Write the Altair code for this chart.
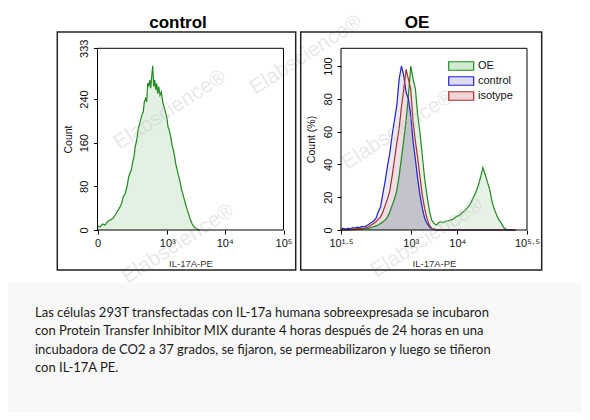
import altair as alt
import pandas as pd

# ---------------- data ----------------
# Left panel "control": IL-17A-PE fluorescence vs event count
ctrl_pe = [0, 7, 16, 24, 33, 44, 57, 69, 82, 94,
           110, 122, 137, 154, 167, 179, 192, 207, 221, 236,
           254, 270, 288, 308, 328, 349, 366, 390, 408, 427,
           447, 468, 489, 511, 535, 559, 584, 610, 637, 665,
           694, 734, 776, 824, 870, 919, 975, 1029, 1086, 1151,
           1215, 1282, 1358, 1432, 1510, 1599, 1686, 1778, 1882, 1983,
           2090, 2212, 2359, 2526, 2736, 2964, 3302, 3764]
ctrl_count = [7, 6, 11, 9, 15, 18, 21, 27, 34, 40,
              49, 61, 67, 82, 98, 104, 110, 125, 134, 153,
              165, 183, 192, 202, 211, 217, 235, 241, 235, 269,
              263, 275, 260, 281, 301, 263, 275, 257, 269, 250,
              263, 247, 253, 235, 226, 217, 208, 189, 183, 171,
              156, 147, 134, 119, 110, 98, 89, 76, 67, 58,
              49, 40, 31, 21, 12, 6, 2, 0]

# Right panel "OE": log10(IL-17A-PE) bins and % of max count per sample
log_bins = [1.50, 1.55, 1.60, 1.65, 1.70, 1.75, 1.80, 1.85, 1.90, 1.95,
            2.00, 2.05, 2.10, 2.15, 2.20, 2.25, 2.30, 2.35, 2.40, 2.45,
            2.50, 2.55, 2.60, 2.65, 2.70, 2.75, 2.80, 2.85, 2.90, 2.95,
            3.00, 3.05, 3.10, 3.15, 3.20, 3.25, 3.30, 3.35, 3.40, 3.45,
            3.50, 3.55, 3.60, 3.65, 3.70, 3.75, 3.80, 3.85, 3.90, 3.95,
            4.00, 4.05, 4.10, 4.15, 4.20, 4.25, 4.30, 4.35, 4.40, 4.45,
            4.50, 4.55, 4.60, 4.65, 4.70, 4.75, 4.80, 4.85, 4.90, 4.95,
            5.00, 5.05, 5.10, 5.15, 5.20, 5.25]
oe_pct = [0, 0, 0, 0, 0, 0, 0.3, 0.3, 0.5, 0.5,
          0.8, 1, 1, 1.5, 2, 2.5, 3, 4, 5, 6,
          8, 11, 15, 19, 24, 33, 44, 55, 67, 82,
          100, 92, 86, 70, 59, 45, 31, 21, 12, 6,
          4, 3, 4.5, 5, 4.5, 5.5, 5.5, 6, 6.5, 7.5,
          8.5, 9, 10.5, 11.5, 13, 14.5, 17, 20, 23, 27,
          32, 38, 34, 29, 24.5, 17, 12.5, 9, 6, 4,
          1.5, 0.5, 0, 0, 0, 0]
control_pct = [0.5, 1, 0.5, 1, 0.8, 1.5, 1.2, 1.8, 1.5, 2.2,
               2.0, 2.5, 3.5, 4.5, 5.5, 7, 11, 14, 22, 30,
               39, 47, 58, 67, 76, 92, 100, 94, 84, 80,
               70, 54, 43, 31, 21, 13, 7, 4, 2, 1,
               0.5, 0, 0, 0, 0, 0, 0, 0, 0, 0,
               0, 0, 0, 0, 0, 0, 0, 0, 0, 0,
               0, 0, 0, 0, 0, 0, 0, 0, 0, 0,
               0, 0, 0, 0, 0, 0]
isotype_pct = [0, 0, 0, 0.3, 0.3, 0.5, 0.5, 0.8, 1, 1,
               1.2, 1.5, 2, 3, 4, 5, 6.5, 8, 11, 15,
               19, 24, 33, 43, 53, 62, 75, 86, 98, 92,
               86, 66, 54, 44, 32, 21, 13, 7, 3, 1,
               0.3, 0, 0, 0, 0, 0, 0, 0, 0, 0,
               0, 0, 0, 0, 0, 0, 0, 0, 0, 0,
               0, 0, 0, 0, 0, 0, 0, 0, 0, 0,
               0, 0, 0, 0, 0, 0]

series_names = ["OE", "control", "isotype"]
series_lines = ["#1f8a1f", "#2222cc", "#a8302c"]
series_fills = ["#d3ead3", "#dcdcf5", "#f2d6d6"]

panel_titles = ["control", "OE"]
caption_lines = [
    "Las células 293T transfectadas con IL-17a humana sobreexpresada se incubaron",
    "con Protein Transfer Inhibitor MIX durante 4 horas después de 24 horas en una",
    "incubadora de CO2 a 37 grados, se fijaron, se permeabilizaron y luego se tiñeron",
    "con IL-17A PE.",
]
watermark = "Elabscience®"

# ---------------- tables ----------------
left_df = pd.DataFrame({"pe": ctrl_pe, "count": ctrl_count})
rows = []
for name, vals in zip(series_names, [oe_pct, control_pct, isotype_pct]):
    for u, v in zip(log_bins, vals):
        rows.append({"series": name, "log_pe": u, "pct": v})
right_df = pd.DataFrame(rows)
one = pd.DataFrame({"k": [0]})

FONT = "Liberation Sans"

# ---------------- left panel ----------------
xl = alt.X(
    "pe:Q",
    scale=alt.Scale(type="symlog", constant=70, domain=[0, 100000], range=[89.5, 275.5], nice=False),
    axis=alt.Axis(
        orient="bottom", offset=-182, values=[0, 1000, 10000, 100000],
        labelExpr="datum.value == 0 ? '0' : datum.value == 1000 ? '10³' : datum.value == 10000 ? '10⁴' : '10⁵'",
        domain=False, grid=False, tickSize=4, tickColor="#000", labelFlush=False, labelOverlap=False,
        labelFont=FONT, labelFontSize=11, labelColor="#111", labelPadding=3,
        title="IL-17A-PE", titleFont=FONT, titleFontSize=9.5, titleFontWeight="normal",
        titleColor="#333", titleX=182.5, titleY=33, titleBaseline="middle",
    ),
)
yl = alt.Y(
    "count:Q",
    scale=alt.Scale(domain=[0, 333], range=[222, 40.3], nice=False),
    axis=alt.Axis(
        orient="left", offset=-89.5, values=[0, 80, 160, 240, 333],
        domain=False, grid=False, tickSize=4, tickColor="#000", labelFlush=False, labelOverlap=False,
        labelAngle=270, labelAlign="center", labelBaseline="bottom", labelPadding=4,
        labelFont=FONT, labelFontSize=11, labelColor="#111",
        title="Count", titleFont=FONT, titleFontSize=10.5, titleFontWeight="normal",
        titleColor="#111", titleAngle=270, titleX=-29.5, titleY=131, titleBaseline="middle",
    ),
)
left_base = alt.Chart(left_df)
left_panel = alt.layer(
    left_base.mark_area(color="#e3f1e3").encode(x=xl, y=yl),
    left_base.mark_line(color="#1f8a1f", strokeWidth=1.2).encode(x=xl, y=yl),
)

# ---------------- right panel ----------------
xr = alt.X(
    "pe:Q",
    scale=alt.Scale(type="log", domain=[10 ** 1.5, 10 ** 5.5], range=[333, 519], nice=False),
    axis=alt.Axis(
        orient="bottom", offset=-182, values=[10 ** 1.5, 1000, 10000, 10 ** 5.5],
        labelExpr="datum.value < 100 ? '10¹·⁵' : datum.value < 5000 ? '10³' : datum.value < 50000 ? '10⁴' : '10⁵·⁵'",
        domain=False, grid=False, tickSize=4, tickColor="#000", labelFlush=False, labelOverlap=False,
        labelFont=FONT, labelFontSize=11, labelColor="#111", labelPadding=3,
        title="IL-17A-PE", titleFont=FONT, titleFontSize=9.5, titleFontWeight="normal",
        titleColor="#333", titleX=426, titleY=33, titleBaseline="middle",
    ),
)
yr_axis = alt.Axis(
    orient="left", offset=-333, values=[0, 20, 40, 60, 80, 100],
    domain=False, grid=False, tickSize=4, tickColor="#000", labelFlush=False, labelOverlap=False,
    labelAngle=270, labelAlign="center", labelBaseline="bottom", labelPadding=4,
    labelFont=FONT, labelFontSize=11, labelColor="#111",
    title="Count (%)", titleFont=FONT, titleFontSize=10.5, titleFontWeight="normal",
    titleColor="#111", titleAngle=270, titleX=-29.3, titleY=131, titleBaseline="middle",
)
yscale_r = alt.Scale(domain=[0, 110.8], range=[222, 40.3], nice=False)
yr = alt.Y("pct:Q", scale=yscale_r, axis=yr_axis, stack=None)

leg = alt.Legend(
    orient="none", legendX=445.2, legendY=50, title=None, padding=0, rowPadding=0,
    symbolType="M-1.7,-0.58H1.7V0.58H-1.7Z", symbolSize=216, symbolStrokeWidth=1.2,
    labelFont=FONT, labelFontSize=11, labelColor="#111", labelOffset=8.8,
)
right_base = alt.Chart(right_df).transform_calculate(pe="pow(10, datum.log_pe)")
right_areas = right_base.mark_area(fillOpacity=0.6).encode(
    x=xr, y=yr,
    fill=alt.Fill("series:N", scale=alt.Scale(domain=series_names, range=series_fills), legend=leg),
)
right_overlap = (
    alt.Chart(right_df)
    .transform_aggregate(pct="min(pct)", groupby=["log_pe"])
    .transform_calculate(pe="pow(10, datum.log_pe)")
    .mark_area(color="#c3c3cc")
    .encode(x=xr, y=yr)
)
right_lines = right_base.mark_line(strokeWidth=1.2).encode(
    x=xr, y=yr,
    stroke=alt.Stroke("series:N", scale=alt.Scale(domain=series_names, range=series_lines), legend=leg),
)
right_panel = alt.layer(right_areas, right_overlap, right_lines)

# ---------------- decorations ----------------
deco = alt.Chart(one)
caption_bg = deco.mark_rect(color="#f8f8f8").encode(
    x=alt.value(-8), x2=alt.value(582), y=alt.value(275), y2=alt.value(412))

def box(x0, x1, y0, y1, w, col):
    return deco.mark_rect(filled=False, stroke=col, strokeWidth=w).encode(
        x=alt.value(x0), x2=alt.value(x1), y=alt.value(y0), y2=alt.value(y1))

outer_l = box(49.3, 287.7, 24, 262, 1.5, "#222")
outer_r = box(292.7, 533.7, 24, 262, 1.5, "#222")
frame_l = box(89.5, 275.5, 40.3, 222, 1, "#000")
frame_r = box(333, 519, 40.3, 222, 1, "#000")

title_l = deco.mark_text(text=panel_titles[0], font=FONT, fontSize=17, fontWeight="bold",
                         color="#000", baseline="middle").encode(x=alt.value(170), y=alt.value(14.5))
title_r = deco.mark_text(text=panel_titles[1], font=FONT, fontSize=17, fontWeight="bold",
                         color="#000", baseline="middle").encode(x=alt.value(409), y=alt.value(14.5))

wm_layers = []
for cx, cy in [(162, 102), (298, 47), (390, 122), (170, 236), (419, 230)]:
    wm_layers.append(
        deco.mark_text(text=watermark, font=FONT, fontSize=21, angle=327, color="#bdbdbd",
                       opacity=0.33, baseline="middle").encode(x=alt.value(cx), y=alt.value(cy))
    )

caption = deco.mark_text(
    text=caption_lines, font="Lato", fontSize=13, color="#1a1a1a", align="left",
    baseline="alphabetic", lineHeight=18.4,
).encode(x=alt.value(27), y=alt.value(308.8))

chart = (
    alt.layer(
        caption_bg, left_panel, right_panel, *wm_layers,
        frame_l, frame_r, outer_l, outer_r, title_l, title_r, caption,
    )
    .resolve_scale(x="independent", y="independent")
    .properties(width=574, height=404, padding=0, autosize=alt.AutoSizeParams(type="none"),
                background="white")
    .configure_view(stroke=None)
)

chart.save("out.html", embed_options={"renderer": "svg", "actions": False})
